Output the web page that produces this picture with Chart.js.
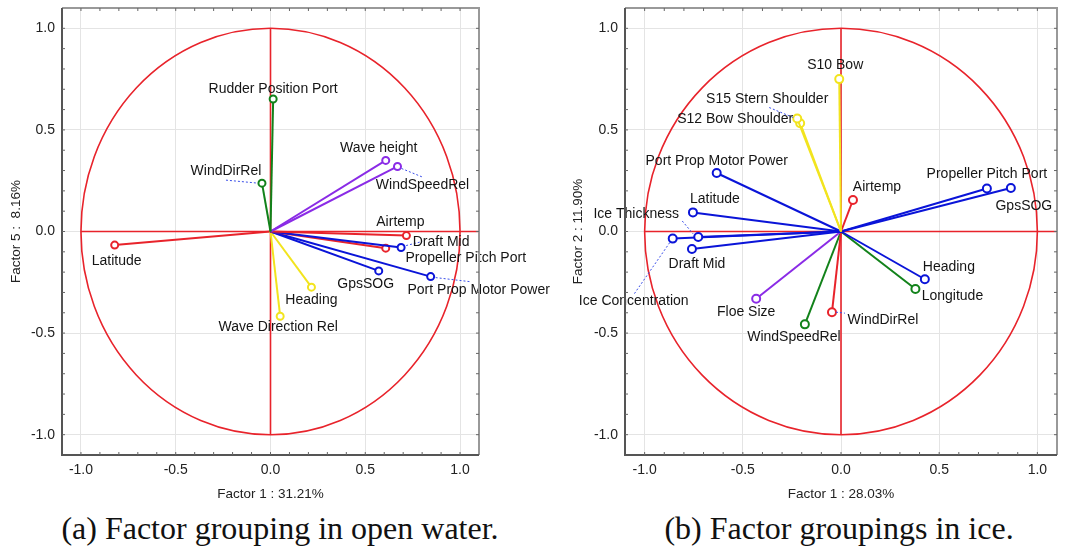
<!DOCTYPE html>
<html>
<head>
<meta charset="utf-8">
<script src="https://cdn.jsdelivr.net/npm/chart.js@4.4.0/dist/chart.umd.min.js"></script>
<style>
  body { margin: 0; background: #fff; width: 1067px; height: 557px; overflow: hidden; position: relative; }
  #chartA { position: absolute; left: 0; top: 0; }
  #chartB { position: absolute; left: 560px; top: 0; }
  .cap { position: absolute; top: 510px; font-family: "Liberation Serif", serif; font-size: 32px; color: #111;
         white-space: nowrap; transform: translateX(-50%); }
</style>
</head>
<body>
<canvas id="chartA" width="560" height="510"></canvas>
<canvas id="chartB" width="507" height="510"></canvas>
<div class="cap" style="left:280px">(a) Factor grouping in open water.</div>
<div class="cap" style="left:839px">(b) Factor groupings in ice.</div>
<script>
// axis ticks shared by both plots
const tickValues = [-1, -0.5, 0, 0.5, 1];
const tickLabels = ["-1.0", "-0.5", "0.0", "0.5", "1.0"];

// (a) open water: factor 1 vs factor 5
const waterNames = ["Rudder Position Port", "WindDirRel", "Wave height", "WindSpeedRel", "Airtemp", "Draft Mid",
  "Propeller Pitch Port", "GpsSOG", "Port Prop Motor Power", "Heading", "Wave Direction Rel", "Latitude"];
const waterF1 = [0.014, -0.045, 0.608, 0.67, 0.717, 0.689, 0.608, 0.571, 0.845, 0.216, 0.051, -0.822];
const waterF5 = [0.652, 0.238, 0.35, 0.32, -0.02, -0.079, -0.082, -0.194, -0.222, -0.274, -0.417, -0.067];

// (b) ice: factor 1 vs factor 2
const iceNames = ["S10 Bow", "S15 Stern Shoulder", "S12 Bow Shoulder", "Port Prop Motor Power", "Airtemp",
  "Propeller Pitch Port", "GpsSOG", "Latitude", "Ice Thickness", "Ice Concentration", "Draft Mid", "Heading",
  "Longitude", "Floe Size", "WindDirRel", "WindSpeedRel"];
const iceF1 = [-0.009, -0.223, -0.208, -0.633, 0.061, 0.743, 0.865, -0.754, -0.727, -0.857, -0.759, 0.427,
  0.379, -0.432, -0.046, -0.184];
const iceF2 = [0.75, 0.556, 0.533, 0.288, 0.155, 0.212, 0.214, 0.094, -0.027, -0.035, -0.086, -0.235,
  -0.283, -0.331, -0.397, -0.457];

// styles
const colors = { red: "#e8232b", green: "#12821a", blue: "#0a14d8", purple: "#8a2be6", yellow: "#f2e41e" };
const waterColors = ["green", "green", "purple", "purple", "red", "blue", "red", "blue", "blue", "yellow", "yellow", "red"];
const iceColors = ["yellow", "yellow", "yellow", "blue", "red", "blue", "blue", "blue", "blue", "blue", "blue", "blue",
  "green", "purple", "red", "green"];

// label placement (pixel offset of label centre from marker) and leader lines
const waterLabelPos = [[0, -10], [-36, -12], [-7, -12], [25, 19], [-6, -13], [40, -5],
  [80, 10], [-13, 13], [48, 14], [0, 13], [-2, 11], [2, 16]];
const waterLeaders = { 1: [[-36, -3], [-4, 0]], 3: [[4, 2], [26, 11]], 5: [[5, -2], [21, -6]], 8: [[5, 1], [39, 5]] };
const iceLabelPos = [[-4, -14], [-30, -19], [-65, -4], [0, -12], [24, -13], [0, -14], [13, 18], [22, -13],
  [-62, -23], [-39, 63], [5, 15], [24, -12], [37, 7], [-10, 13], [51, 8], [-11, 13]];
const iceLeaders = { 1: [[-28, -11], [-4, -1]], 8: [[-16, -16], [-5, -3]], 9: [[-3, 4], [-39, 56]], 14: [[4, 0], [13, 1]] };

const pcaDecor = {
  id: "pcaDecor",
  beforeDatasetsDraw(chart) {
    const { ctx, chartArea: a, scales: { x, y } } = chart;
    const x0 = x.getPixelForValue(0), y0 = y.getPixelForValue(0);
    ctx.save();
    ctx.beginPath();
    ctx.rect(a.left, a.top, a.right - a.left, a.bottom - a.top);
    ctx.clip();
    ctx.strokeStyle = colors.red;
    ctx.lineWidth = 1.6;
    ctx.beginPath();
    ctx.ellipse(x0, y0, x.getPixelForValue(1) - x0, y0 - y.getPixelForValue(1), 0, 0, Math.PI * 2);
    ctx.stroke();
    ctx.beginPath();
    ctx.moveTo(x.getPixelForValue(-1), y0);
    ctx.lineTo(a.right, y0);
    ctx.moveTo(x0, y.getPixelForValue(1));
    ctx.lineTo(x0, y.getPixelForValue(-1));
    ctx.stroke();
    ctx.restore();
  },
  afterDatasetsDraw(chart, args, opts) {
    const { ctx, scales: { x, y } } = chart;
    ctx.save();
    // leaders
    ctx.strokeStyle = "#3a4ee8";
    ctx.lineWidth = 1;
    ctx.setLineDash([2, 2]);
    Object.keys(opts.leaders).forEach(k => {
      const px = x.getPixelForValue(opts.f1[k]), py = y.getPixelForValue(opts.f2[k]);
      const [s, e] = opts.leaders[k];
      ctx.beginPath();
      ctx.moveTo(px + s[0], py + s[1]);
      ctx.lineTo(px + e[0], py + e[1]);
      ctx.stroke();
    });
    ctx.setLineDash([]);
    // labels
    ctx.fillStyle = "#151515";
    ctx.font = "14px 'Liberation Sans', Arial, sans-serif";
    ctx.textAlign = "center";
    ctx.textBaseline = "middle";
    opts.names.forEach((n, i) => {
      const px = x.getPixelForValue(opts.f1[i]), py = y.getPixelForValue(opts.f2[i]);
      ctx.fillText(n, px + opts.labelPos[i][0], py + opts.labelPos[i][1]);
    });
    ctx.restore();
  },
  afterDraw(chart, args, opts) {
    const { ctx, chartArea: a, scales: { x, y } } = chart;
    ctx.save();
    // frame
    ctx.lineWidth = 2;
    ctx.strokeStyle = "#999";
    ctx.beginPath();
    ctx.moveTo(a.left, a.top); ctx.lineTo(a.right, a.top); ctx.lineTo(a.right, a.bottom);
    ctx.stroke();
    ctx.strokeStyle = "#555";
    ctx.beginPath();
    ctx.moveTo(a.left, a.top); ctx.lineTo(a.left, a.bottom); ctx.lineTo(a.right, a.bottom);
    ctx.stroke();
    // minor ticks every 0.1
    ctx.lineWidth = 1;
    ctx.strokeStyle = "#666";
    for (let k = -10; k <= 10; k++) {
      const v = k / 10;
      const px = x.getPixelForValue(v), py = y.getPixelForValue(v);
      ctx.beginPath();
      ctx.moveTo(px, a.bottom); ctx.lineTo(px, a.bottom - 3);
      ctx.moveTo(px, a.top); ctx.lineTo(px, a.top + 3);
      ctx.moveTo(a.left, py); ctx.lineTo(a.left + 3, py);
      ctx.moveTo(a.right, py); ctx.lineTo(a.right - 3, py);
      ctx.stroke();
    }
    // axis titles
    ctx.fillStyle = "#222";
    ctx.font = "13.5px 'Liberation Sans', Arial, sans-serif";
    ctx.textAlign = "center";
    ctx.textBaseline = "middle";
    ctx.fillText(opts.xTitle, (a.left + a.right) / 2, a.bottom + 39);
    ctx.translate(a.left - opts.yTitleGap, (a.top + a.bottom) / 2);
    ctx.rotate(-Math.PI / 2);
    ctx.fillText(opts.yTitle, 0, 0);
    ctx.restore();
  }
};

function makeChart(id, names, f1, f2, colorKeys, radius, yWidth, padRight, decor) {
  const datasets = names.map((n, i) => ({
    label: n,
    data: [{ x: 0, y: 0 }, { x: f1[i], y: f2[i] }],
    showLine: true,
    borderColor: colors[colorKeys[i]],
    borderWidth: 2,
    pointRadius: [0, radius],
    pointBorderWidth: 2,
    pointBorderColor: colors[colorKeys[i]],
    pointBackgroundColor: "#fff"
  }));
  const axis = {
    type: "linear",
    min: -1.1,
    max: 1.1,
    afterBuildTicks: s => { s.ticks = tickValues.map(v => ({ value: v })); },
    ticks: {
      callback: (v) => tickLabels[tickValues.indexOf(v)],
      color: "#222",
      font: { family: "'Liberation Sans', Arial, sans-serif", size: 14 },
      padding: 7,
      autoSkip: false,
      maxRotation: 0
    },
    grid: { color: "#e4e4e4", lineWidth: 1, drawTicks: false },
    border: { display: false }
  };
  return new Chart(document.getElementById(id), {
    type: "scatter",
    data: { datasets },
    options: {
      responsive: false,
      animation: false,
      events: [],
      devicePixelRatio: 1,
      layout: { padding: { left: 0, top: 0, right: padRight, bottom: 0 } },
      scales: {
        x: { ...axis, afterFit: s => { s.height = 55; } },
        y: { ...axis, afterFit: s => { s.width = yWidth; s.paddingTop = 8; s.paddingBottom = 0; } }
      },
      plugins: { legend: { display: false }, tooltip: { enabled: false }, pcaDecor: decor }
    },
    plugins: [pcaDecor]
  });
}

makeChart("chartA", waterNames, waterF1, waterF5, waterColors, 3.5, 62, 81, {
  names: waterNames, f1: waterF1, f2: waterF5, labelPos: waterLabelPos, leaders: waterLeaders,
  xTitle: "Factor 1 : 31.21%", yTitle: "Factor 5 :  8.16%", yTitleGap: 46
});
makeChart("chartB", iceNames, iceF1, iceF2, iceColors, 4, 65, 10, {
  names: iceNames, f1: iceF1, f2: iceF2, labelPos: iceLabelPos, leaders: iceLeaders,
  xTitle: "Factor 1 : 28.03%", yTitle: "Factor 2 : 11.90%", yTitleGap: 47
});
</script>
</body>
</html>
